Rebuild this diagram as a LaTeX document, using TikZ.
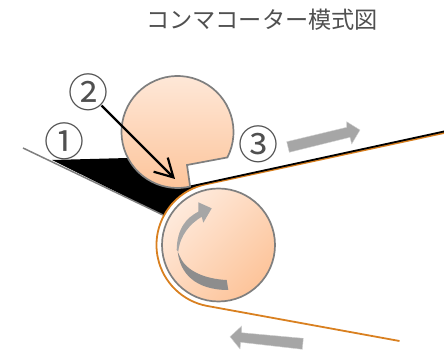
\documentclass[tikz,border=0pt]{standalone}
\usepackage{fontspec}
\setmainfont{Noto Sans CJK JP}
\usetikzlibrary{arrows.meta,calc}
\definecolor{rollerlight}{HTML}{FEEADC}
\definecolor{rollerdark}{HTML}{FDC49A}
\definecolor{rollerline}{HTML}{7F7F7F}
\definecolor{webline}{HTML}{D98020}
\definecolor{arrowgray}{HTML}{A6A6A6}
\definecolor{labelgray}{HTML}{505050}
\tikzset{
	>=stealth,
	title/.style={text=labelgray, font=\fontsize{23.2}{23.2}\selectfont, inner sep=0pt},
	number/.style={circle, text=labelgray, font=\fontsize{40}{40}\selectfont, inner sep=-11pt, minimum size=37pt},
	roller/.style={draw=rollerline, line width=1.7pt},
	motion/.style={fill=arrowgray, draw=arrowgray!50, line width=0.4pt}
}

\begin{document}
\begin{tikzpicture}[x=1pt, y=1pt]
	\useasboundingbox (0,0) rectangle (444,353);

	% --- Coordinates ---
	\coordinate (upper) at (177.5,221);
	\coordinate (lower) at (218.5,108);
	\coordinate (web_end) at (444,221);
	\coordinate (web_out) at (399.5,12);
	\coordinate (blade_start) at (23,205);
	\coordinate (blade_end) at (163,138);
	\coordinate (tip) at (175,174);

	% --- Coating ---
	\fill[black] (52,193) -- (128,195) -- (177,190) -- (188,167) -- ($(lower)+(102:62)$)
		arc[start angle=102, end angle=151.6, radius=62] -- cycle;
	\draw[rollerline, line width=1.5pt] (blade_start) -- (blade_end);

	% --- Web ---
	\draw[webline, line width=1.8pt] ($(web_end)+(0,-1)$) -- ($(lower)+(102:62)$)
		arc[start angle=102, end angle=259, radius=62] -- (web_out);
	\draw[black, line width=1.8pt] ($(web_end)+(0,0.5)$) -- (190,166.5);

	% --- Rollers ---
	\draw[roller, top color=rollerlight, bottom color=rollerdark]
		($(upper)+(-27:56)$) arc[start angle=-27, end angle=283, radius=56] -- (187,188) -- cycle;
	\draw[roller, top color=rollerlight, bottom color=rollerdark, shading angle=45]
		(lower) circle[radius=56.5];

	% --- Rotation ---
	\fill[arrowgray!85!black] (177.7,101.3) .. controls (180,80) and (195,63) .. (228.3,63)
		-- (226.7,73) .. controls (205,74) and (186,82) .. (180,96.3) -- cycle;
	\fill[arrowgray] (176.7,103) .. controls (177,124) and (186,135) .. (198.3,141.3)
		-- (198.3,150.7) -- (211.7,144.7) -- (203.3,130.3) -- (201.7,136.3)
		.. controls (190,129) and (180,118) .. (178.3,101.3) -- cycle;

	% --- Motion arrows ---
	\fill[motion] (286.7,211.3) -- (346.7,225.7) -- (346.7,231.3) -- (360,223) -- (351.7,209)
		-- (350,215.7) -- (289.3,200.7) -- cycle;
	\fill[motion] (230,16.3) -- (241.7,27) -- (241.7,20.3) -- (303.3,14.7) -- (302.3,3.7)
		-- (240.7,10.7) -- (240,4) -- cycle;

	% --- Nodes ---
	\node[title] (heading) at (262,333.5) {コンマコーター模式図};
	\node[number] (first) at (64.3,211.3) {①};
	\node[number] (second) at (88.3,260.7) {②};
	\node[number] (third) at (258.3,209) {③};

	% --- Connections ---
	\draw[-{Straight Barb[length=18pt, width=20pt]}, line width=2.2pt] (second) -- (tip);
\end{tikzpicture}
\end{document}
